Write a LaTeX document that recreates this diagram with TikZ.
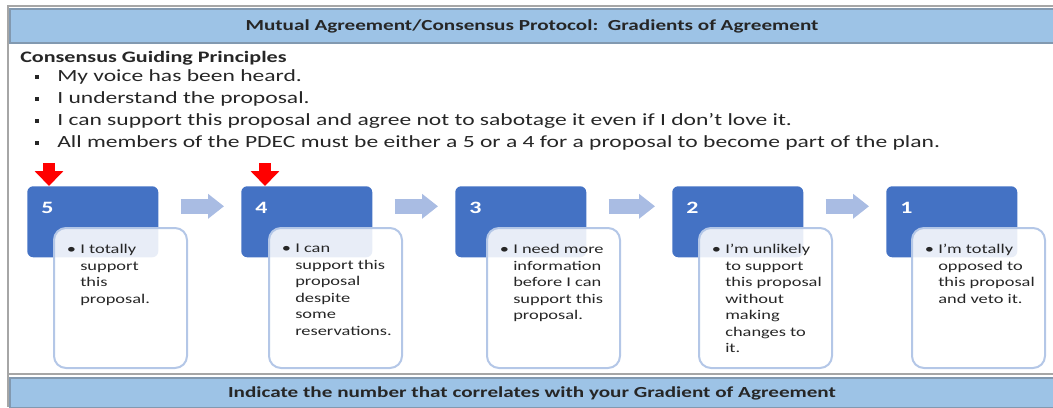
\documentclass[tikz,border=0pt]{standalone}
\usepackage{fontspec}
\setmainfont{Carlito}[FakeStretch=1.38]
\usetikzlibrary{
    arrows.meta,
    positioning
}

\begin{document}
\begin{tikzpicture}[
    x=0.75pt, y=-0.75pt,
    font=\fontsize{12}{16.5}\selectfont,
    band/.style={
    	draw=band-edge, line width=1.5pt, fill=band-blue,
    	minimum width=783pt, minimum height=25.5pt,
    	inner sep=0pt, anchor=north west,
    	font=\fontsize{11.5}{14}\selectfont\bfseries, text=txt-gray
    }, grade/.style={
    	fill=grade-blue, rounded corners=4.5pt,
    	minimum width=98.25pt, minimum height=53.25pt, anchor=north west
    }, desc/.style={
    	draw=desc-edge, line width=1.5pt, fill=white, fill opacity=0.88,
    	rounded corners=9pt,
    	minimum width=99.75pt, minimum height=105pt, anchor=north west
    }, txt/.style={
    	anchor=north west, inner sep=0pt, align=left,
    	font=\fontsize{10}{12.4}\selectfont, text=txt-gray
    }, num/.style={
    	anchor=west, inner sep=0pt, text=white,
    	font=\fontsize{13}{13}\selectfont\bfseries
    }, item/.style={
    	anchor=west, inner sep=0pt, text=txt-gray,
    	font=\fontsize{12.8}{16.5}\selectfont
    }, flow/.style={
    	draw=flow-blue, line width=11.25pt,
    	-{Triangle[width=18pt,length=12pt]},
    	shorten <=16.5pt, shorten >=12.75pt
    }, pick/.style={
    	draw=pick-red, line width=9pt,
    	-{Triangle[width=21pt,length=11.25pt]}
    }]
    \definecolor{band-blue}{RGB}{157, 195, 230}
    \definecolor{band-edge}{RGB}{130, 153, 176}
    \definecolor{grade-blue}{RGB}{68, 114, 196}
    \definecolor{desc-edge}{RGB}{180, 199, 231}
    \definecolor{flow-blue}{RGB}{169, 188, 227}
    \definecolor{pick-red}{RGB}{255, 0, 0}
    \definecolor{frame-gray}{RGB}{166, 166, 166}
    \definecolor{txt-gray}{RGB}{38, 38, 38}

    \useasboundingbox (0,0) rectangle (1053,407);
    \draw[frame-gray, line width=1.5pt] (1053,6) -- (8,6) -- (8,407);

    %%% header and principles
    \node[band] (head) at (9,8) {Mutual Agreement/Consensus Protocol:\ \ Gradients of Agreement};

    \node[item, font=\fontsize{12}{16.5}\selectfont\bfseries] (principles) at (20,58) {Consensus Guiding Principles};
    \node[item] (item-1) at (57,77) {\llap{\raisebox{2pt}{\rule{2.5pt}{3pt}}\hspace{14pt}}My voice has been heard.};
    \node[item] (item-2) at (57,99) {\llap{\raisebox{2pt}{\rule{2.5pt}{3pt}}\hspace{14pt}}I understand the proposal.};
    \node[item] (item-3) at (57,121) {\llap{\raisebox{2pt}{\rule{2.5pt}{3pt}}\hspace{14pt}}I can support this proposal and agree not to sabotage it even if I don't love it.};
    \node[item] (item-4) at (57,143) {\llap{\raisebox{2pt}{\rule{2.5pt}{3pt}}\hspace{14pt}}All members of the PDEC must be either a 5 or a 4 for a proposal to become part of the plan.};

    %%% gradients
    \node[grade] (grade-5) at (27,186) {};
    \node[grade] (grade-4) at (241,186) {};
    \node[grade] (grade-3) at (455,186) {};
    \node[grade] (grade-2) at (672,186) {};
    \node[grade] (grade-1) at (886,186) {};

    \node[num] (num-5) at (41,208) {5};
    \node[num] (num-4) at (255,208) {4};
    \node[num] (num-3) at (469,208) {3};
    \node[num] (num-2) at (686,208) {2};
    \node[num] (num-1) at (900,208) {1};

    \node[desc] (desc-5) at (53,227) {};
    \node[desc] (desc-4) at (268,227) {};
    \node[desc] (desc-3) at (486,227) {};
    \node[desc] (desc-2) at (698,227) {};
    \node[desc] (desc-1) at (911,227) {};

    \node[txt] (txt-5) at (80,244) {\llap{\textbullet\ }I totally\\support\\this\\proposal.};
    \node[txt] (txt-4) at (295,244) {\llap{\textbullet\ }I can\\support this\\proposal\\despite\\some\\reservations.};
    \node[txt] (txt-3) at (513,244) {\llap{\textbullet\ }I need more\\information\\before I can\\support this\\proposal.};
    \node[txt] (txt-2) at (725,244) {\llap{\textbullet\ }I'm unlikely\\to support\\this proposal\\without\\making\\changes to\\it.};
    \node[txt] (txt-1) at (938,244) {\llap{\textbullet\ }I'm totally\\opposed to\\this proposal\\and veto it.};

    %%% marks on 5 and 4
    \coordinate (mark-5) at (49,163);
    \coordinate (mark-4) at (265,163);
    \draw[pick] (mark-5) -- (mark-5 |- grade-5.north);
    \draw[pick] (mark-4) -- (mark-4 |- grade-4.north);

    %%% EDGES
    \draw[flow] ([yshift=11.6pt]grade-5.east) -- ([yshift=11.6pt]grade-4.west);
    \draw[flow] ([yshift=11.6pt]grade-4.east) -- ([yshift=11.6pt]grade-3.west);
    \draw[flow] ([yshift=11.6pt]grade-3.east) -- ([yshift=11.6pt]grade-2.west);
    \draw[flow] ([yshift=11.6pt]grade-2.east) -- ([yshift=11.6pt]grade-1.west);

    %%% footer
    \draw[frame-gray, line width=1.5pt] (8,374) -- (1053,374);
    \node[band, minimum height=22.5pt] (foot) at (9,377) {Indicate the number that correlates with your Gradient of Agreement};

\end{tikzpicture}
\end{document}
